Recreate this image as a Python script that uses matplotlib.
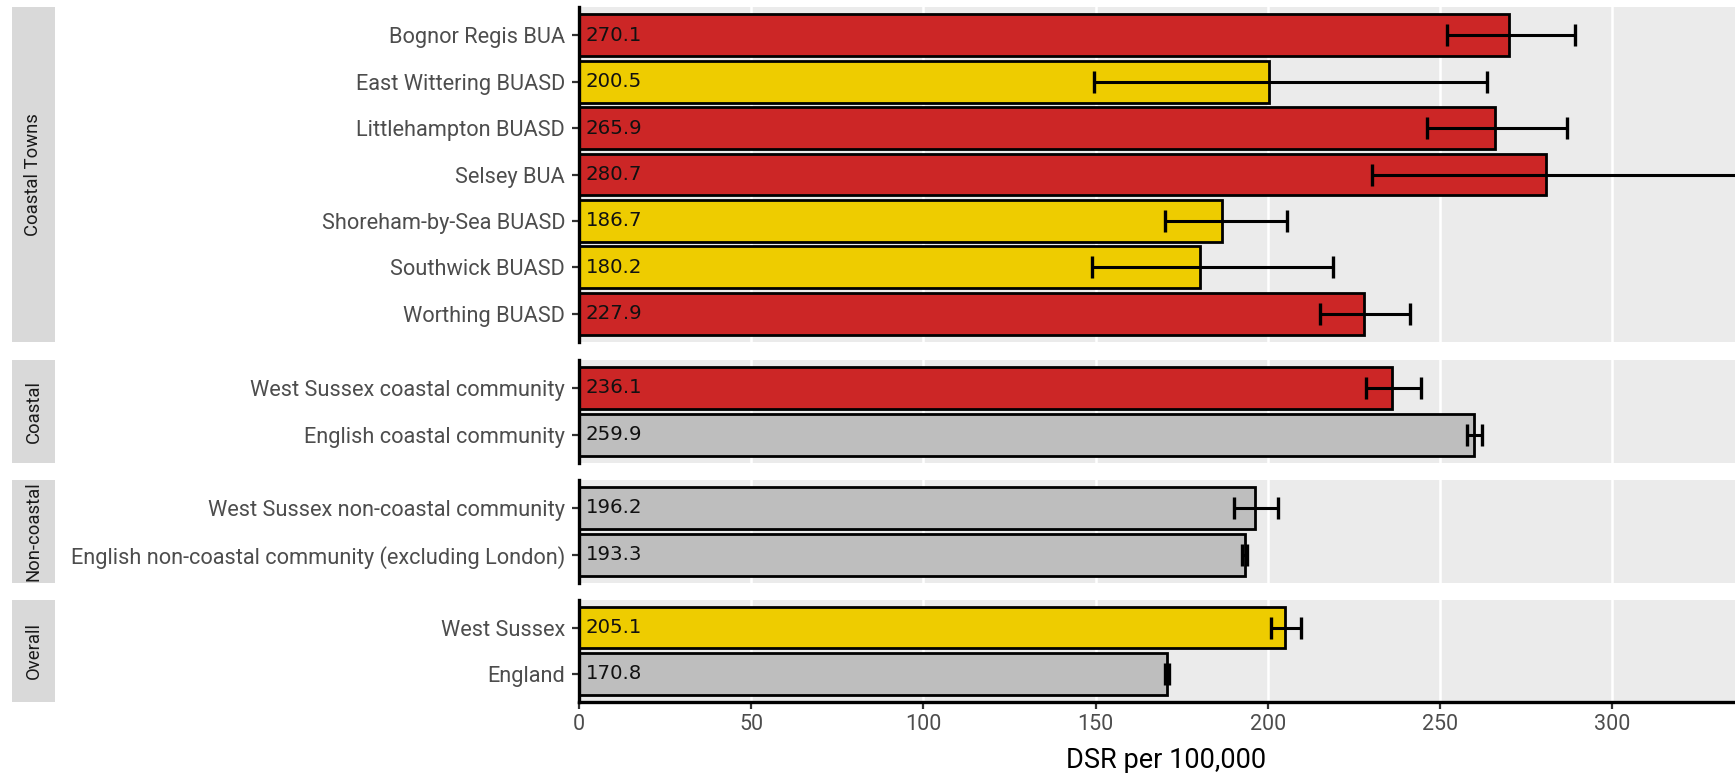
import matplotlib
matplotlib.use("Agg")
import matplotlib.pyplot as plt
import numpy as np

# data
groups = ["Coastal Towns"] * 7 + ["Coastal"] * 2 + ["Non-coastal"] * 2 + ["Overall"] * 2
areas = [
    "Bognor Regis BUA",
    "East Wittering BUASD",
    "Littlehampton BUASD",
    "Selsey BUA",
    "Shoreham-by-Sea BUASD",
    "Southwick BUASD",
    "Worthing BUASD",
    "West Sussex coastal community",
    "English coastal community",
    "West Sussex non-coastal community",
    "English non-coastal community (excluding London)",
    "West Sussex",
    "England",
]
dsr = [270.1, 200.5, 265.9, 280.7, 186.7, 180.2, 227.9,
       236.1, 259.9, 196.2, 193.3, 205.1, 170.8]
lower_ci = [252.0, 149.5, 246.2, 230.3, 170.1, 148.9, 215.3,
            228.5, 257.8, 190.1, 192.6, 200.9, 170.3]
upper_ci = [289.3, 263.8, 286.9, 350.0, 205.6, 219.1, 241.4,
            244.4, 262.3, 203.1, 194.0, 209.7, 171.3]
significance = ["Higher", "Similar", "Higher", "Higher", "Similar", "Similar", "Higher",
                "Higher", "None", "None", "None", "Similar", "None"]

facet_order = ["Coastal Towns", "Coastal", "Non-coastal", "Overall"]
x_ticks = [0, 50, 100, 150, 200, 250, 300]
x_max = 335.7

fill_cols = {"Higher": "#CC2626", "Similar": "#EECC00", "None": "#BEBEBE"}

W, H = 1735, 773
fig = plt.figure(figsize=(W / 100, H / 100), dpi=100)

# panel boxes in pixels (top, bottom)
panel_px = [(7.3, 341.7), (360, 462.5), (480, 582.5), (600, 701.5)]
left_px = 579
strip_x = (11.5, 55.3)
expand = 0.1

groups = np.array(groups)
for i, (facet, (top, bot)) in enumerate(zip(facet_order, panel_px)):
    idx = np.where(groups == facet)[0]
    n = len(idx)
    ax = fig.add_axes([left_px / W, 1 - bot / H, 1 - left_px / W, (bot - top) / H])
    ax.set_facecolor("#EBEBEB")
    for x in x_ticks:
        ax.axvline(x, color="white", lw=1.8, zorder=0)
    ypos = np.arange(n)
    vals = [dsr[j] for j in idx]
    ax.barh(ypos, vals, height=0.9,
            color=[fill_cols[significance[j]] for j in idx],
            edgecolor="black", linewidth=2, zorder=2)
    lo = np.array([lower_ci[j] for j in idx])
    hi = np.array([upper_ci[j] for j in idx])
    v = np.array(vals)
    ax.errorbar(v, ypos, xerr=[v - lo, hi - v], fmt="none", ecolor="black",
                elinewidth=2.2, capsize=8, capthick=2.4, zorder=3)
    for y, val in zip(ypos, vals):
        ax.annotate(f"{val:.1f}", xy=(0, y), xytext=(5, 0), textcoords="offset points",
                    ha="left", va="center", fontsize=14.2, family="DejaVu Sans",
                    color="#111111", zorder=4)
    ax.set_xlim(0, x_max)
    ax.set_ylim(n - 0.5 + expand, -0.5 - expand)
    ax.set_yticks(ypos)
    ax.set_yticklabels([areas[j] for j in idx], family="Roboto", fontsize=15.7, color="#4D4D4D")
    ax.tick_params(axis="y", length=5, width=1.6, color="#333333", pad=5)
    ax.set_xticks(x_ticks)
    for s in ["top", "right", "bottom"]:
        ax.spines[s].set_visible(False)
    ax.spines["left"].set_linewidth(2.4)
    ax.spines["left"].set_color("black")
    if i == len(facet_order) - 1:
        ax.spines["bottom"].set_visible(True)
        ax.spines["bottom"].set_linewidth(2.4)
        ax.spines["bottom"].set_color("black")
        ax.set_xticklabels([str(t) for t in x_ticks], family="Roboto", fontsize=15.5, color="#4D4D4D")
        ax.tick_params(axis="x", length=5, width=1.6, color="#333333", pad=4)
        ax.set_xlabel("DSR per 100,000", family="Roboto", fontsize=19.5, color="black")
        ax.xaxis.set_label_coords(0.508, -0.45)
    else:
        ax.tick_params(axis="x", length=0, labelbottom=False)

    # strip on the left
    sax = fig.add_axes([strip_x[0] / W, 1 - bot / H, (strip_x[1] - strip_x[0]) / W, (bot - top) / H])
    sax.set_facecolor("#D9D9D9")
    sax.set_xticks([])
    sax.set_yticks([])
    for s in sax.spines.values():
        s.set_visible(False)
    sax.text(0.5, 0.5, facet, rotation=90, ha="center", va="center",
             family="Roboto", fontsize=13.3, color="#1A1A1A", transform=sax.transAxes)

fig.savefig("out.png", dpi=100)
